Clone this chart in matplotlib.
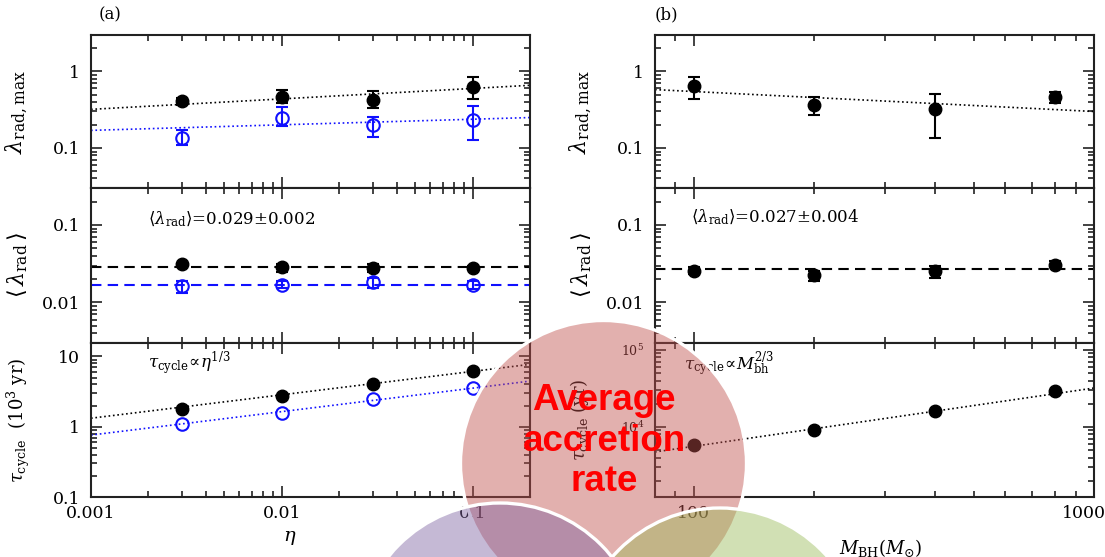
import matplotlib
matplotlib.use('Agg')
import matplotlib.pyplot as plt
from matplotlib.patches import Circle
from matplotlib.ticker import LogLocator, NullFormatter
from matplotlib.transforms import ScaledTranslation

plt.rcParams['font.family'] = 'DejaVu Serif'
plt.rcParams['mathtext.fontset'] = 'dejavuserif'

# (a) dependence on radiative efficiency eta
eta = [0.003, 0.01, 0.03, 0.1]
lmax_a = [0.41, 0.46, 0.42, 0.62]
lmax_a_lo = [0.37, 0.39, 0.33, 0.44]
lmax_a_hi = [0.45, 0.58, 0.55, 0.86]
lmax_a2 = [0.135, 0.25, 0.20, 0.23]
lmax_a2_lo = [0.111, 0.195, 0.139, 0.129]
lmax_a2_hi = [0.172, 0.34, 0.256, 0.35]
lmean_a = [0.031, 0.029, 0.028, 0.028]
lmean_a_lo = [0.030, 0.025, 0.025, 0.026]
lmean_a_hi = [0.032, 0.031, 0.031, 0.030]
lmean_a2 = [0.0161, 0.017, 0.0182, 0.017]
lmean_a2_lo = [0.0131, 0.0154, 0.0152, 0.015]
lmean_a2_hi = [0.019, 0.0188, 0.021, 0.019]
mean_a, mean_a2 = 0.029, 0.017
tau_a = [1.79, 2.77, 4.03, 6.1]
tau_a2 = [1.08, 1.55, 2.48, 3.53]
fit_eta = [0.001, 0.2]
fit_lmax_a = [0.32, 0.66]
fit_lmax_a2 = [0.17, 0.25]
fit_tau_a = [1.32, 7.7]
fit_tau_a2 = [0.76, 4.45]

# (b) dependence on black hole mass
mbh = [100, 200, 400, 800]
lmax_b = [0.64, 0.36, 0.32, 0.46]
lmax_b_lo = [0.44, 0.27, 0.136, 0.39]
lmax_b_hi = [0.86, 0.46, 0.51, 0.54]
lmean_b = [0.0257, 0.0223, 0.0253, 0.0303]
lmean_b_lo = [0.0232, 0.019, 0.0205, 0.0285]
lmean_b_hi = [0.029, 0.0252, 0.0297, 0.034]
mean_b = 0.027
tau_b = [5840, 9140, 16100, 29400]
fit_mbh = [80, 1000]
fit_lmax_b = [0.58, 0.30]
fit_tau_b = [4730, 32000]

W, H = 1105, 557
fig = plt.figure(figsize=(W / 100, H / 100), dpi=100)

rows = [(35, 188), (188, 343), (343, 497)]
cols = [91, 655]
width = 439


def make_ax(col, row):
    top, bot = rows[row]
    return fig.add_axes([cols[col] / W, (H - bot) / H, width / W, (bot - top) / H])


def style(ax, yt, ylab):
    ax.set_xscale('log')
    ax.set_yscale('log')
    ax.tick_params(which='both', direction='in', top=True, right=True,
                   labelsize=12.5, width=1.2, color='#222222')
    ax.tick_params(which='major', length=8)
    ax.tick_params(which='minor', length=4)
    ax.tick_params(axis='y', pad=8)
    ax.tick_params(axis='x', pad=6)
    for s in ax.spines.values():
        s.set_linewidth(1.5)
        s.set_color('#222222')
    ax.set_yticks(yt)
    ax.set_yticklabels(ylab)
    ax.yaxis.set_minor_locator(LogLocator(subs=range(2, 10)))
    ax.yaxis.set_minor_formatter(NullFormatter())


def err(v, lo, hi):
    return [[a - b for a, b in zip(v, lo)], [c - a for a, c in zip(v, hi)]]


ebk = dict(fmt='o', ms=9, capsize=4.5, elinewidth=1.5, capthick=1.5)
blue = '#1010ff'

# ---- left column ----
axes_a = [make_ax(0, r) for r in range(3)]
ax1, ax2, ax3 = axes_a

ax1.plot(fit_eta, fit_lmax_a, ':', color='k', lw=1.2)
ax1.plot(fit_eta, fit_lmax_a2, ':', color=blue, lw=1.2)
ax1.errorbar(eta, lmax_a, yerr=err(lmax_a, lmax_a_lo, lmax_a_hi), color='k', **ebk)
ax1.errorbar(eta, lmax_a2, yerr=err(lmax_a2, lmax_a2_lo, lmax_a2_hi), color=blue,
             mfc='none', mew=1.5, **ebk)
ax1.set_ylim(0.03, 3)
style(ax1, [0.1, 1], ['0.1', '1'])
ax1.set_ylabel(r'$\lambda_{\rm rad,max}$', fontsize=16)
ax1.text(0.043, 1.13, '(a)', transform=ax1.transAxes, ha='center', va='center', fontsize=12)

ax2.axhline(mean_a, color='k', ls='--', lw=1.5, dashes=(5, 3))
ax2.axhline(mean_a2, color=blue, ls='--', lw=1.5, dashes=(5, 3))
ax2.errorbar(eta, lmean_a, yerr=err(lmean_a, lmean_a_lo, lmean_a_hi), color='k', **ebk)
ax2.errorbar(eta, lmean_a2, yerr=err(lmean_a2, lmean_a2_lo, lmean_a2_hi), color=blue,
             mfc='none', mew=1.5, **ebk)
ax2.set_ylim(0.003, 0.3)
style(ax2, [0.01, 0.1], ['0.01', '0.1'])
ax2.set_ylabel(r'$\langle\,\lambda_{\rm rad}\,\rangle$', fontsize=16)
ax2.text(0.13, 0.8, r'$\langle\lambda_{\rm rad}\rangle$=0.029$\pm$0.002',
         transform=ax2.transAxes, va='center', fontsize=12)

ax3.plot(fit_eta, fit_tau_a, ':', color='k', lw=1.2)
ax3.plot(fit_eta, fit_tau_a2, ':', color=blue, lw=1.2)
ax3.plot(eta, tau_a, 'o', color='k', ms=9)
ax3.plot(eta, tau_a2, 'o', color=blue, mfc='none', mew=1.5, ms=9)
ax3.set_ylim(0.1, 15.5)
style(ax3, [0.1, 1, 10], ['0.1', '1', '10'])
ax3.set_ylabel(r'$\tau_{\rm cycle}\ \ (10^3\ {\rm yr})$', fontsize=13)
ax3.text(0.13, 0.864, r'$\tau_{\rm cycle}\!\propto\!\eta^{1/3}$',
         transform=ax3.transAxes, va='center', fontsize=12)

for ax in axes_a:
    ax.set_xlim(0.001, 0.2)
    ax.set_xticks([0.001, 0.01, 0.1])
    ax.xaxis.set_minor_locator(LogLocator(subs=range(2, 10)))
    ax.xaxis.set_minor_formatter(NullFormatter())
    ax.yaxis.set_label_coords(-0.14, 0.5)
ax1.tick_params(labelbottom=False)
ax2.tick_params(labelbottom=False)
ax3.set_xticklabels(['0.001', '0.01', '0.1'])
ax3.yaxis.set_label_coords(-0.135, 0.5)
ax3.set_xlabel(r'$\eta$', fontsize=14)
ax3.xaxis.set_label_coords(0.453, -0.21)

# ---- right column ----
axes_b = [make_ax(1, r) for r in range(3)]
bx1, bx2, bx3 = axes_b

bx1.plot(fit_mbh, fit_lmax_b, ':', color='k', lw=1.2)
bx1.errorbar(mbh, lmax_b, yerr=err(lmax_b, lmax_b_lo, lmax_b_hi), color='k', **ebk)
bx1.set_ylim(0.03, 3)
style(bx1, [0.1, 1], ['0.1', '1'])
bx1.set_ylabel(r'$\lambda_{\rm rad,max}$', fontsize=16)
bx1.text(0.025, 1.13, '(b)', transform=bx1.transAxes, ha='center', va='center', fontsize=12)

bx2.axhline(mean_b, color='k', ls='--', lw=1.5, dashes=(5, 3))
bx2.errorbar(mbh, lmean_b, yerr=err(lmean_b, lmean_b_lo, lmean_b_hi), color='k', **ebk)
bx2.set_ylim(0.003, 0.3)
style(bx2, [0.01, 0.1], ['0.01', '0.1'])
bx2.set_ylabel(r'$\langle\,\lambda_{\rm rad}\,\rangle$', fontsize=16)
bx2.text(0.082, 0.81, r'$\langle\lambda_{\rm rad}\rangle$=0.027$\pm$0.004',
         transform=bx2.transAxes, va='center', fontsize=12)

bx3.plot(fit_mbh, fit_tau_b, ':', color='k', lw=1.2)
bx3.plot(mbh, tau_b, 'o', color='k', ms=9)
bx3.set_ylim(1230, 1.23e5)
style(bx3, [1e4, 1e5], [r'$10^4$', r'$10^5$'])
bx3.tick_params(axis='y', labelsize=9)
bx3.set_ylabel(r'$\tau_{\rm cycle}\ ({\rm yr})$', fontsize=13)
bx3.text(0.066, 0.86, r'$\tau_{\rm cycle}\!\propto\!M_{\rm bh}^{2/3}$',
         transform=bx3.transAxes, va='center', fontsize=12)

for ax in axes_b:
    ax.set_xlim(80, 1000)
    ax.set_xticks([100, 1000])
    ax.xaxis.set_minor_locator(LogLocator(subs=range(2, 10)))
    ax.xaxis.set_minor_formatter(NullFormatter())
    ax.yaxis.set_label_coords(-0.14, 0.5)
bx1.tick_params(labelbottom=False)
bx2.tick_params(labelbottom=False)
bx3.set_xticklabels(['100', '1000'])
# nudge the last label so it stays inside the figure
last = bx3.get_xticklabels()[-1]
last.set_transform(last.get_transform() + ScaledTranslation(-0.1, 0, fig.dpi_scale_trans))
bx3.set_xlabel(r'$M_{\rm BH}(M_{\odot})$', fontsize=13)
bx3.xaxis.set_label_coords(0.514, -0.26)

# ---- overlapping circles on top, in pixel units ----
ov = fig.add_axes([0, 0, 1, 1], zorder=10)
ov.set_xlim(0, W)
ov.set_ylim(H, 0)
ov.axis('off')
ov.patch.set_visible(False)

circles = [((603.5, 463.5), '#C0504D'), ((500, 646), '#8064A2'), ((720, 651), '#9BBB59')]
for (cx, cy), col in circles:
    ov.add_patch(Circle((cx, cy), 143, facecolor=col, alpha=0.45, edgecolor='none'))
    ov.add_patch(Circle((cx, cy), 143, facecolor='none', edgecolor='white', lw=2.4))

for word, base in [('Average', 410), ('accretion', 451), ('rate', 491)]:
    ov.text(604, base, word, ha='center', va='baseline', color='red',
            fontsize=26.5, fontweight='bold', family='Liberation Sans')

fig.savefig('out.png', dpi=100)
